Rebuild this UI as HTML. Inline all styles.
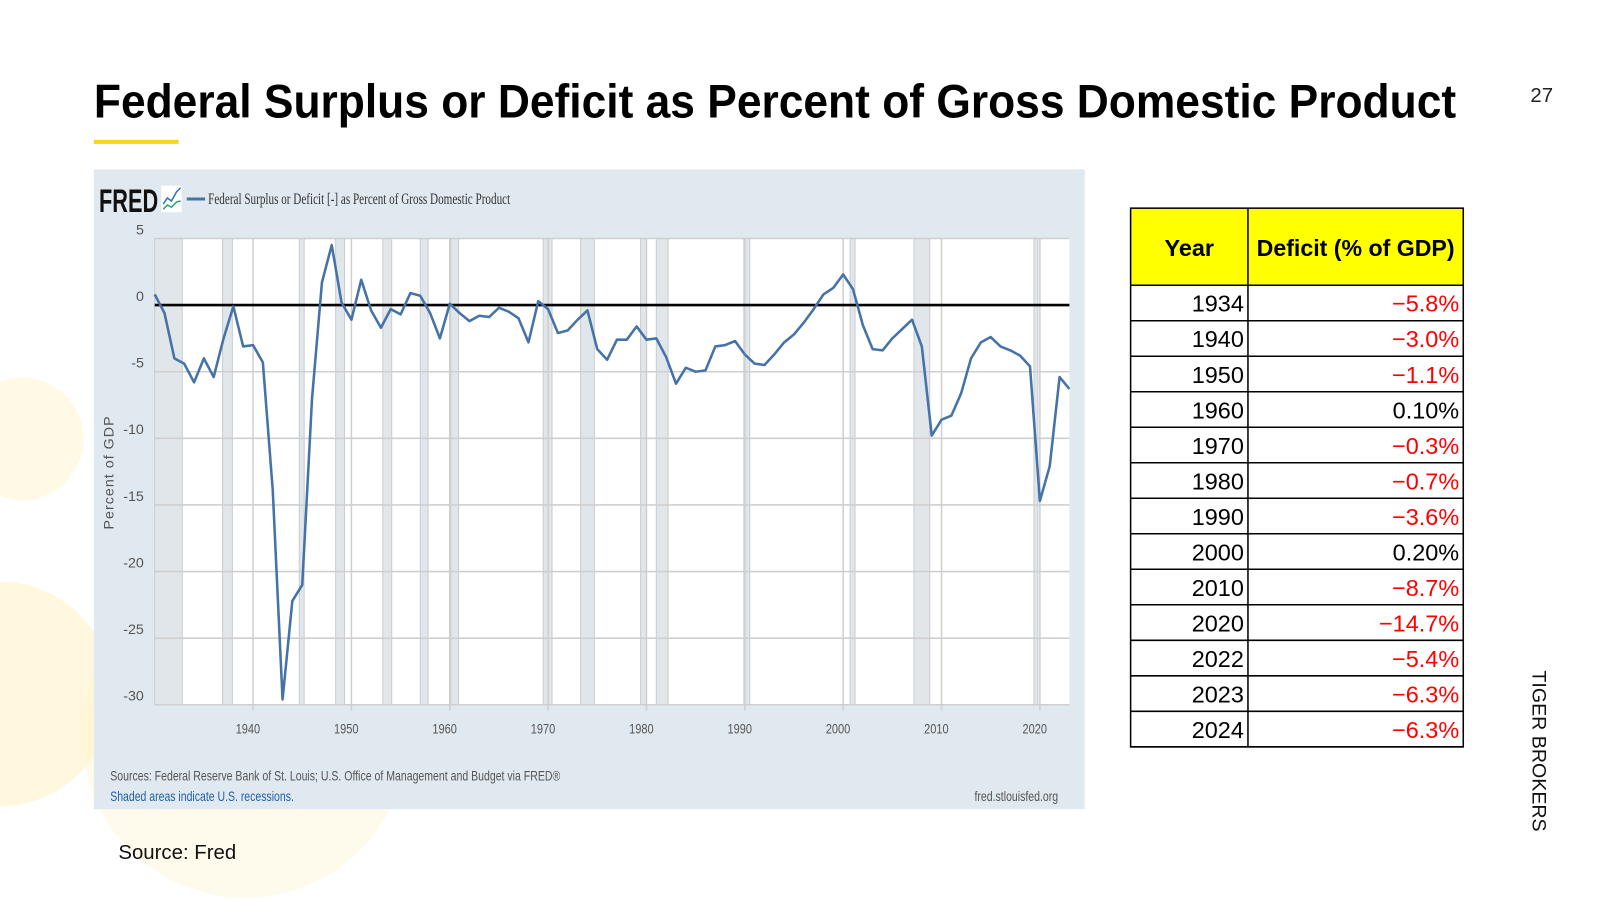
<!DOCTYPE html>
<html><head><meta charset="utf-8"><style>
html,body{margin:0;padding:0;background:#fff;width:1600px;height:900px;overflow:hidden}
svg{display:block;overflow:hidden}
</style></head><body>
<svg id="root" width="1600" height="900" viewBox="0 0 1568 882" overflow="hidden" xmlns="http://www.w3.org/2000/svg" font-family="Liberation Sans, sans-serif">
  <g>
    <circle cx="22" cy="430" r="60" fill="#fff8e0" opacity="0.8"/>
    <circle cx="240" cy="720" r="160" fill="#fffbea" opacity="0.9"/>
    <circle cx="0" cy="680" r="110" fill="#fff3c8" opacity="0.6"/>
  </g>
  <text x="92" y="115" font-size="46" font-weight="bold" fill="#000" textLength="1335" lengthAdjust="spacingAndGlyphs">Federal Surplus or Deficit as Percent of Gross Domestic Product</text>
  <rect x="92" y="137" width="83" height="4" fill="#f7d518"/>
  <text x="1522" y="100" font-size="20" text-anchor="end" fill="#222">27</text>
  <text transform="translate(1502,657) rotate(90)" font-size="19" fill="#111" textLength="158" lengthAdjust="spacingAndGlyphs">TIGER BROKERS</text>

  <g id="chart">
    <rect x="92" y="166" width="971" height="627" fill="#e1e9f0"/>
    <text x="97" y="208" font-size="32" font-weight="bold" fill="#111" textLength="58" lengthAdjust="spacingAndGlyphs">FRED</text>
    <g>
      <rect x="158" y="182" width="20" height="26" fill="#fff"/>
      <polyline points="160,200 164,194 168,197 173,188 177,184" fill="none" stroke="#2f6fd0" stroke-width="1.5"/>
      <polyline points="160,205 164,201 168,203 173,198 177,197" fill="none" stroke="#2aa66a" stroke-width="1.5"/>
    </g>
    <line x1="183" y1="195" x2="201" y2="195" stroke="#4572a7" stroke-width="3"/>
    <text x="204" y="200" font-size="15" font-family="Liberation Serif, serif" fill="#333" textLength="296" lengthAdjust="spacingAndGlyphs">Federal Surplus or Deficit [-] as Percent of Gross Domestic Product</text>
    <rect x="151.6" y="233.7" width="896.4" height="457" fill="#fff"/>
    <g id="recessions"></g>
    <g id="grid"></g>
    <g id="yticks"></g>
    <g id="xticks"></g>
    <line id="zero" stroke="#000" stroke-width="2.5"/>
    <polyline id="series" fill="none" stroke="#4572a7" stroke-width="2.5" stroke-linejoin="round"/>
    <text transform="translate(111,463) rotate(-90)" font-size="14" fill="#555" text-anchor="middle" letter-spacing="1">Percent of GDP</text>
    <text x="108" y="765" font-size="14" fill="#555" textLength="441" lengthAdjust="spacingAndGlyphs">Sources: Federal Reserve Bank of St. Louis; U.S. Office of Management and Budget via FRED®</text>
    <text x="108" y="785" font-size="14" fill="#1f5fa8" textLength="180" lengthAdjust="spacingAndGlyphs">Shaded areas indicate U.S. recessions.</text>
    <text x="1037" y="785" font-size="14" fill="#555" text-anchor="end" textLength="82" lengthAdjust="spacingAndGlyphs">fred.stlouisfed.org</text>
  </g>

  <g id="table"></g>
  <text x="116" y="842" font-size="20" fill="#111">Source: Fred</text>

<script>
const years = [1930,1931,1932,1933,1934,1935,1936,1937,1938,1939,1940,1941,1942,1943,1944,1945,1946,1947,1948,1949,1950,1951,1952,1953,1954,1955,1956,1957,1958,1959,1960,1961,1962,1963,1964,1965,1966,1967,1968,1969,1970,1971,1972,1973,1974,1975,1976,1977,1978,1979,1980,1981,1982,1983,1984,1985,1986,1987,1988,1989,1990,1991,1992,1993,1994,1995,1996,1997,1998,1999,2000,2001,2002,2003,2004,2005,2006,2007,2008,2009,2010,2011,2012,2013,2014,2015,2016,2017,2018,2019,2020,2021,2022,2023];
const values = [0.8,-0.6,-4.0,-4.4,-5.8,-4.0,-5.4,-2.5,-0.1,-3.1,-3.0,-4.3,-13.9,-29.6,-22.2,-21.0,-7.0,1.7,4.5,0.2,-1.1,1.9,-0.4,-1.7,-0.3,-0.7,0.9,0.7,-0.6,-2.5,0.1,-0.6,-1.2,-0.8,-0.9,-0.2,-0.5,-1.0,-2.8,0.3,-0.3,-2.1,-1.9,-1.1,-0.4,-3.3,-4.1,-2.6,-2.6,-1.6,-2.6,-2.5,-3.9,-5.9,-4.7,-5.0,-4.9,-3.1,-3.0,-2.7,-3.7,-4.4,-4.5,-3.7,-2.8,-2.2,-1.3,-0.3,0.8,1.3,2.3,1.2,-1.5,-3.3,-3.4,-2.5,-1.8,-1.1,-3.1,-9.8,-8.6,-8.3,-6.6,-4.0,-2.8,-2.4,-3.1,-3.4,-3.8,-4.6,-14.7,-12.1,-5.4,-6.3];
const recStart = [1930.0,1936.9,1944.7,1948.4,1953.2,1957.0,1960.1,1969.5,1973.3,1979.4,1981.0,1989.9,2000.7,2007.2,2019.4];
const recEnd   = [1932.8,1937.9,1945.2,1949.3,1954.1,1957.8,1960.9,1970.4,1974.7,1980.0,1982.2,1990.5,2001.2,2008.8,2019.8];
const yTicks = [5,0,-5,-10,-15,-20,-25,-30];
const xTicks = [1940,1950,1960,1970,1980,1990,2000,2010,2020];
const tableYears = ["1934","1940","1950","1960","1970","1980","1990","2000","2010","2020","2022","2023","2024"];
const tableVals = ["−5.8%","−3.0%","−1.1%","0.10%","−0.3%","−0.7%","−3.6%","0.20%","−8.7%","−14.7%","−5.4%","−6.3%","−6.3%"];

const NS = "http://www.w3.org/2000/svg";
const X0 = 151.6, X1 = 1048, Y0 = 233.7, Y1 = 690.7;
const xMin = 1930, xMax = 2023, yMin = -30, yMax = 5;
function xs(v){ return X0 + (v - xMin) / (xMax - xMin) * (X1 - X0); }
function ys(v){ return Y0 + (yMax - v) / (yMax - yMin) * (Y1 - Y0); }
function mk(tag, attrs, parent){ const e = document.createElementNS(NS, tag); for (const k in attrs) e.setAttribute(k, attrs[k]); parent.appendChild(e); return e; }

const rg = document.getElementById('recessions');
recStart.forEach((s, i) => {
  const a = Math.max(xs(s), X0), b = xs(recEnd[i]);
  const r = mk('rect', {x: a, y: Y0, width: Math.max(b - a, 3), height: Y1 - Y0, fill: '#e1e6eb', stroke: '#c8cdd2', 'stroke-width': 1}, rg);
  
  
});

const gg = document.getElementById('grid');
const yt = document.getElementById('yticks');
yTicks.forEach(v => {
  const l = mk('line', {x1: X0, x2: X1, y1: ys(v), y2: ys(v), stroke: '#cfcfcf', 'stroke-width': 1.5}, gg);
  
  
  const t = mk('text', {x: 141, y: ys(v) - 4, 'font-size': 14, fill: '#555', 'text-anchor': 'end'}, yt);
  t.textContent = v;
  
  
});
const xt = document.getElementById('xticks');
xTicks.forEach(v => {
  const l = mk('line', {x1: xs(v), x2: xs(v), y1: Y0, y2: Y1 + 6, stroke: '#cfcfcf', 'stroke-width': 1.5}, gg);
  
  
  const t = mk('text', {x: xs(v) - 5, y: 719, 'font-size': 14, fill: '#555', 'text-anchor': 'middle', textLength: 24, lengthAdjust: 'spacingAndGlyphs'}, xt);
  t.textContent = v;
  
  
});
const z = document.getElementById('zero');
z.setAttribute('x1', X0); z.setAttribute('x2', X1); z.setAttribute('y1', ys(0)); z.setAttribute('y2', ys(0));
document.getElementById('series').setAttribute('points', years.map((y, i) => xs(y).toFixed(1) + ',' + ys(values[i]).toFixed(1)).join(' '));

const tg = document.getElementById('table');
const TX0 = 1108, TX1 = 1434, TXD = 1223, HT = 204, HB = 279.5, RH = 34.8;
const hdr = mk('rect', {x: TX0, y: HT, width: TX1 - TX0, height: HB - HT, fill: '#ffff00'}, tg);


const h1 = mk('text', {x: (TX0 + TXD) / 2, y: HT + 47, 'font-size': 23, 'font-weight': 'bold', 'text-anchor': 'middle', fill: '#000'}, tg);
h1.textContent = 'Year';


const h2 = mk('text', {x: (TXD + TX1) / 2, y: HT + 47, 'font-size': 23, 'font-weight': 'bold', 'text-anchor': 'middle', fill: '#000', textLength: 194, lengthAdjust: 'spacingAndGlyphs'}, tg);
h2.textContent = 'Deficit (% of GDP)';


tableYears.forEach((yv, i) => {
  const top = HB + i * RH;
  const a = mk('text', {x: 1219, y: top + 26, 'font-size': 23, 'text-anchor': 'end', fill: '#000'}, tg);
  a.textContent = yv;
  
  
  const neg = tableVals[i].indexOf('−') === 0;
  const b = mk('text', {x: 1430, y: top + 26, 'font-size': 23, 'text-anchor': 'end', fill: neg ? '#ff0000' : '#000'}, tg);
  b.textContent = tableVals[i];
  
  
  mk('line', {x1: TX0, x2: TX1, y1: top + RH, y2: top + RH, stroke: '#000', 'stroke-width': 1.5}, tg);
});
const TB = HB + tableYears.length * RH;
mk('rect', {x: TX0, y: HT, width: TX1 - TX0, height: TB - HT, fill: 'none', stroke: '#000', 'stroke-width': 1.5}, tg);
mk('line', {x1: TX0, x2: TX1, y1: HB, y2: HB, stroke: '#000', 'stroke-width': 1.5}, tg);
mk('line', {x1: TXD, x2: TXD, y1: HT, y2: TB, stroke: '#000', 'stroke-width': 1.5}, tg);
</script>
</svg>
</body></html>
